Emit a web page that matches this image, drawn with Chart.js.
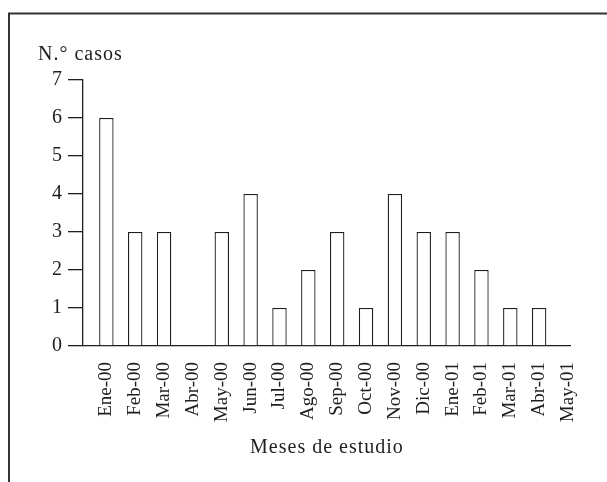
<!DOCTYPE html>
<html>
<head>
<meta charset="utf-8">
<script src="https://cdn.jsdelivr.net/npm/chart.js@4.4.1/dist/chart.umd.min.js"></script>
<style>
  html, body { margin: 0; padding: 0; background: #fff; }
  #wrap { width: 607px; height: 482px; }
</style>
</head>
<body>
<div id="wrap"><canvas id="casosChart" width="607" height="482"></canvas></div>
<script>
const meses = ['Ene-00', 'Feb-00', 'Mar-00', 'Abr-00', 'May-00', 'Jun-00', 'Jul-00', 'Ago-00',
  'Sep-00', 'Oct-00', 'Nov-00', 'Dic-00', 'Ene-01', 'Feb-01', 'Mar-01', 'Abr-01', 'May-01'];
const casos = [6, 3, 3, 0, 3, 4, 1, 2, 3, 1, 4, 3, 3, 2, 1, 1, 0];
const tituloY = 'N.° casos';
const tituloX = 'Meses de estudio';

const tinta = '#1e1e1e';
const familia = '"Liberation Serif", "Times New Roman", serif';
const fuente = { family: familia, size: 20, weight: 'normal' };
const fuenteMes = { family: familia, size: 19, weight: 'normal' };

// marco del recuadro (solo borde superior e izquierdo visibles) y espaciado de letras
const marco = {
  id: 'marco',
  beforeDraw(chart) {
    const ctx = chart.ctx;
    ctx.save();
    ctx.strokeStyle = '#333';
    ctx.lineWidth = 2;
    ctx.beginPath();
    ctx.moveTo(9, 482);
    ctx.lineTo(9, 13.5);
    ctx.lineTo(607, 13.5);
    ctx.stroke();
    ctx.restore();

    if (!ctx._fillTextOrig) {
      ctx._fillTextOrig = ctx.fillText;
      ctx.fillText = function (text, x, y, maxWidth) {
        const girado = this.getTransform().b !== 0;
        this.letterSpacing = girado ? '0px' : (String(text).length > 2 ? '1px' : '0px');
        return this._fillTextOrig(text, x, y, maxWidth);
      };
    }
  }
};

new Chart(document.getElementById('casosChart').getContext('2d'), {
  type: 'bar',
  data: {
    datasets: [{
      label: tituloY,
      data: casos.map((v, i) => ({ x: i, y: v })),
      backgroundColor: '#ffffff',
      borderColor: tinta,
      borderWidth: 1.3,
      barPercentage: 0.5,
      categoryPercentage: 1
    }]
  },
  plugins: [marco],
  options: {
    responsive: false,
    animation: false,
    layout: { padding: { left: 38, right: 32, top: 0, bottom: 0 } },
    plugins: {
      legend: { display: false },
      tooltip: { enabled: false },
      title: {
        display: true,
        text: tituloY,
        align: 'start',
        color: tinta,
        font: fuente,
        padding: { top: 43, bottom: 13 }
      }
    },
    scales: {
      x: {
        type: 'linear',
        offset: false,
        min: -0.81,
        max: 16.1,
        afterFit: (scale) => { scale.height = 136; },
        grid: { display: false, drawTicks: false },
        border: { display: true, color: tinta, width: 1.3 },
        ticks: {
          stepSize: 1,
          includeBounds: false,
          autoSkip: false,
          minRotation: 90,
          maxRotation: 90,
          padding: 16,
          color: tinta,
          font: fuenteMes,
          callback: (v) => meses[v]
        },
        title: {
          display: true,
          text: tituloX,
          color: tinta,
          font: fuente,
          padding: { top: 0, bottom: 22 }
        }
      },
      y: {
        min: 0,
        max: 7,
        afterFit: (scale) => { scale.width = 45; },
        grid: { drawOnChartArea: false, drawTicks: true, tickLength: 15, color: tinta, lineWidth: 1.3 },
        border: { display: true, color: tinta, width: 1.3 },
        ticks: { stepSize: 1, padding: 6, color: tinta, font: fuente }
      }
    }
  }
});
</script>
</body>
</html>
